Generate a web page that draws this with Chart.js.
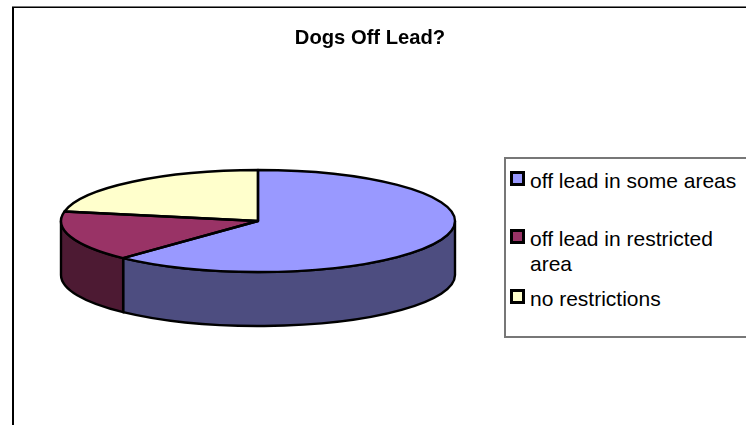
<!DOCTYPE html>
<html>
<head>
<meta charset="utf-8">
<title>Dogs Off Lead?</title>
<script src="https://cdn.jsdelivr.net/npm/chart.js@4"></script>
<style>
    html, body { margin: 0; padding: 0; background: #fff; overflow: hidden; }
    #wrap { position: relative; width: 746px; height: 425px; overflow: hidden; font-family: "Liberation Sans", Arial, sans-serif; }
    #frame { position: absolute; left: 12px; top: 7px; width: 740px; height: 430px; border-left: 2px solid #000; border-top: 1px solid #000; box-shadow: 0 -1px 0 #777; }
    #chart { position: absolute; left: 0; top: 0; }
    #legend { position: absolute; left: 504px; top: 157px; width: 260px; height: 177px; border: 2px solid #777; box-sizing: content-box; background: #fff; }
    .item { position: absolute; left: 24px; width: 216px; font-size: 21px; line-height: 25px; color: #000; }
    .swatch { position: absolute; left: -20px; top: 3px; width: 9px; height: 9px; border: 3px solid #000; }
</style>
</head>
<body>
<div id="wrap">
    <div id="frame"></div>
    <div id="legend"></div>
    <canvas id="chart" width="746" height="425"></canvas>
</div>
<script>
// Données
const categories = ['off lead in some areas', 'off lead in restricted area', 'no restrictions'];
const shares = [62, 16, 22];
const topColors = ['#9999ff', '#993366', '#ffffcc'];
const wallColors = ['#4d4d80', '#4d1a33', '#80806a'];
const legendTops = [9, 67, 127];

// Position de la tarte "3D"
const PIE_X = 258, PIE_Y = 221, PIE_RX = 197, PIE_RY = 51, DEPTH = 54;

// Écrase le cercle de Chart.js en ellipse et ajoute le flanc
const pie3d = {
    id: 'pie3d',
    beforeDatasetDraw(chart) {
        const ctx = chart.ctx;
        const arcs = chart.getDatasetMeta(0).data;
        ctx.save();
        ctx.lineWidth = 2.4;
        ctx.strokeStyle = '#000';
        arcs.forEach((arc, i) => {
            const from = Math.max(norm(arc.startAngle), 0);
            const to = Math.min(norm(arc.endAngle), Math.PI);
            if (norm(arc.startAngle) >= Math.PI || to <= from) return;
            ctx.beginPath();
            ctx.ellipse(PIE_X, PIE_Y, PIE_RX, PIE_RY, 0, from, to);
            ctx.ellipse(PIE_X, PIE_Y + DEPTH, PIE_RX, PIE_RY, 0, to, from, true);
            ctx.closePath();
            ctx.fillStyle = wallColors[i];
            ctx.fill();
            ctx.stroke();
        });
        ctx.restore();

        ctx.save();
        const first = arcs[0];
        ctx.translate(PIE_X, PIE_Y);
        ctx.scale(1, PIE_RY / PIE_RX);
        ctx.translate(-first.x, -first.y);
    },
    afterDatasetDraw(chart) {
        const ctx = chart.ctx;
        ctx.restore();
        // Contours tracés hors transformation pour garder une épaisseur constante
        ctx.save();
        ctx.lineWidth = 2.4;
        ctx.strokeStyle = '#000';
        ctx.lineJoin = 'round';
        chart.getDatasetMeta(0).data.forEach(arc => {
            ctx.beginPath();
            ctx.moveTo(PIE_X, PIE_Y);
            ctx.ellipse(PIE_X, PIE_Y, PIE_RX, PIE_RY, 0, arc.startAngle, arc.endAngle);
            ctx.closePath();
            ctx.stroke();
        });
        ctx.restore();
    }
};

// Ramène un angle dans [-PI/2, 3PI/2[ comme ceux de l'arc
function norm(angle) {
    let a = angle;
    while (a >= 3 * Math.PI / 2) a -= 2 * Math.PI;
    return a;
}

new Chart(document.getElementById('chart').getContext('2d'), {
    type: 'pie',
    data: {
        labels: categories,
        datasets: [{
            data: shares,
            backgroundColor: topColors,
            borderWidth: 0,
            radius: PIE_RX,
            clip: false
        }]
    },
    options: {
        responsive: false,
        animation: false,
        events: [],
        layout: { padding: { top: 18, right: 6 } },
        plugins: {
            legend: { display: false },
            tooltip: { enabled: false },
            title: {
                display: true,
                text: 'Dogs Off Lead?',
                color: '#000',
                font: { family: '"Liberation Sans", Arial, sans-serif', size: 20.2, weight: 'bold' },
                padding: { top: 8, bottom: 8 }
            }
        }
    },
    plugins: [pie3d]
});

// Légende en HTML, placée à la main
const legendBox = document.getElementById('legend');
categories.forEach((label, i) => {
    const item = document.createElement('div');
    item.className = 'item';
    item.style.top = legendTops[i] + 'px';
    item.textContent = label;
    const swatch = document.createElement('span');
    swatch.className = 'swatch';
    swatch.style.background = topColors[i];
    item.appendChild(swatch);
    legendBox.appendChild(item);
});
</script>
</body>
</html>
